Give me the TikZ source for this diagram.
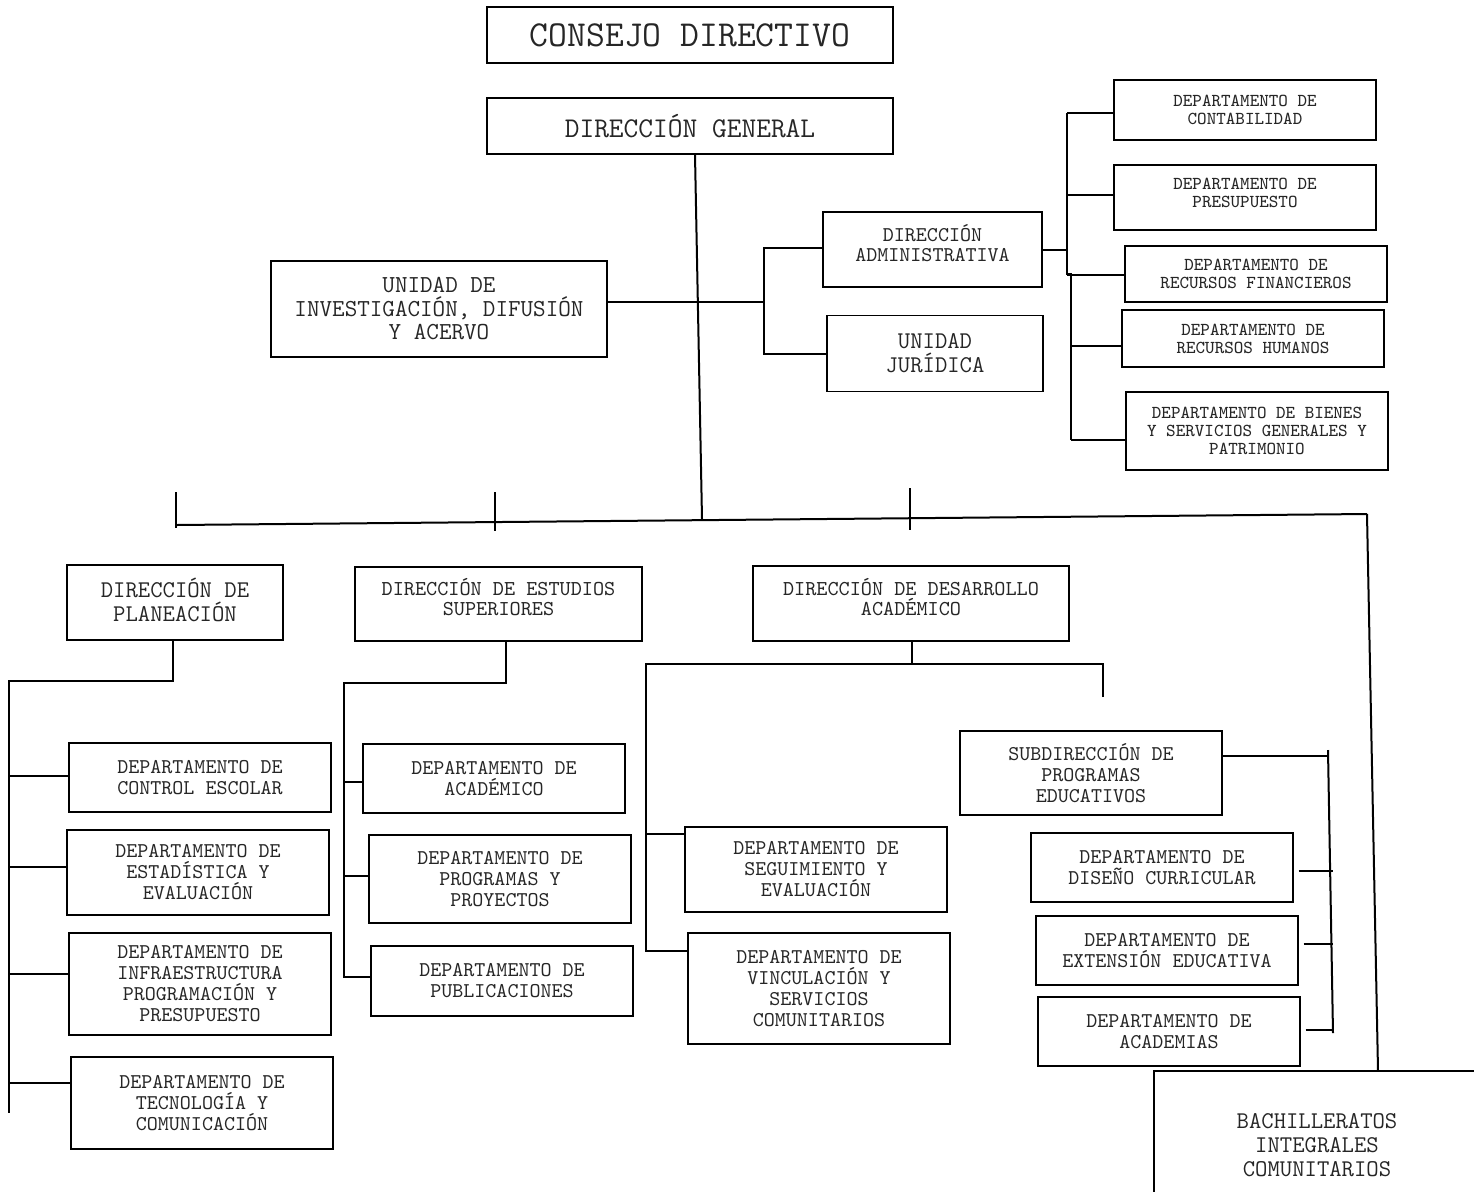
\documentclass[tikz,border=0pt]{standalone}
\usepackage{fontspec}

\begin{document}
\begin{tikzpicture}[x=0.5pt,y=-0.5pt,
    box/.style={draw,line width=0.65pt,align=center,inner sep=0pt,text=black!85},
    link/.style={line width=1pt},
    fA/.style={font=\ttfamily\fontsize{18.3}{21}\selectfont},
    fB/.style={font=\ttfamily\fontsize{14.3}{16}\selectfont},
    fC/.style={font=\ttfamily\fontsize{12}{12}\selectfont},
    fD/.style={font=\ttfamily\fontsize{10.5}{10.5}\selectfont},
    fE/.style={font=\ttfamily\fontsize{9.1}{9}\selectfont},
    dept/.style={box,fD,minimum width=131pt,minimum height=34.5pt},
    fin/.style={box,fE,minimum width=131pt}]
\useasboundingbox (0,0) rectangle (1474,1191);
\clip (0,0) rectangle (1474,1191);

\node[box,fA,minimum width=203pt,minimum height=28pt] (cd) at (690,35) {CONSEJO DIRECTIVO};
\node[box,fB,minimum width=203pt,minimum height=28pt] (dg) at (690,126) {DIRECCIÓN GENERAL};
\node[box,font=\ttfamily\fontsize{12.2}{11.75}\selectfont,minimum width=168pt,minimum height=48pt] (uinv) at (439,309) {UNIDAD DE\\INVESTIGACIÓN, DIFUSIÓN\\Y ACERVO};
\node[box,font=\ttfamily\fontsize{10.5}{10}\selectfont,minimum width=109.5pt,minimum height=37.5pt,text depth=6.5pt] (dadm) at (932.5,249.5) {DIRECCIÓN\\ADMINISTRATIVA};
\node[box,fC,minimum width=108pt,minimum height=38pt] (ujur) at (935,353.5) {UNIDAD\\JURÍDICA};

\node[fin,minimum height=30pt] (dcont) at (1245,110) {DEPARTAMENTO DE\\CONTABILIDAD};
\node[fin,minimum height=32.5pt,text depth=4.5pt] (dpres) at (1245,197.5) {DEPARTAMENTO DE\\PRESUPUESTO};
\node[fin,minimum height=28pt] (dfin) at (1256,274) {DEPARTAMENTO DE\\RECURSOS FINANCIEROS};
\node[fin,minimum height=28.5pt] (dhum) at (1253,338.5) {DEPARTAMENTO DE\\RECURSOS HUMANOS};
\node[fin,minimum height=39pt] (dbien) at (1257,431) {DEPARTAMENTO DE BIENES\\Y SERVICIOS GENERALES Y\\PATRIMONIO};

\node[box,fC,minimum width=108pt,minimum height=37.5pt,text depth=3pt] (dplan) at (175,602.5) {DIRECCIÓN DE\\PLANEACIÓN};
\node[box,font=\ttfamily\fontsize{10.6}{10}\selectfont,minimum width=143.5pt,minimum height=37pt,text depth=7pt] (dest) at (498.5,604) {DIRECCIÓN DE ESTUDIOS\\SUPERIORES};
\node[box,font=\ttfamily\fontsize{10.6}{10}\selectfont,minimum width=158pt,minimum height=37.5pt,text depth=7pt] (ddes) at (911,603.5) {DIRECCIÓN DE DESARROLLO\\ACADÉMICO};

\node[dept] (dctrl) at (200,777.5) {DEPARTAMENTO DE\\CONTROL ESCOLAR};
\node[dept,minimum height=42.5pt] (destad) at (198,872.5) {DEPARTAMENTO DE\\ESTADÍSTICA Y\\EVALUACIÓN};
\node[dept,minimum height=51pt] (dinfra) at (200,984) {DEPARTAMENTO DE\\INFRAESTRUCTURA\\PROGRAMACIÓN Y\\PRESUPUESTO};
\node[dept,minimum height=46pt] (dtec) at (202,1103) {DEPARTAMENTO DE\\TECNOLOGÍA Y\\COMUNICACIÓN};

\node[dept] (dacad) at (494,778.5) {DEPARTAMENTO DE\\ACADÉMICO};
\node[dept,minimum height=44pt] (dprog) at (500,879) {DEPARTAMENTO DE\\PROGRAMAS Y\\PROYECTOS};
\node[dept,minimum height=35pt] (dpub) at (502,981) {DEPARTAMENTO DE\\PUBLICACIONES};

\node[dept,minimum height=42.5pt] (dseg) at (816,869.5) {DEPARTAMENTO DE\\SEGUIMIENTO Y\\EVALUACIÓN};
\node[dept,minimum height=55.5pt] (dvinc) at (819,988.5) {DEPARTAMENTO DE\\VINCULACIÓN Y\\SERVICIOS\\COMUNITARIOS};

\node[dept,minimum height=42pt] (sprog) at (1091,773) {SUBDIRECCIÓN DE\\PROGRAMAS\\EDUCATIVOS};
\node[dept] (ddis) at (1162,867.5) {DEPARTAMENTO DE\\DISEÑO CURRICULAR};
\node[dept] (dext) at (1167,950.5) {DEPARTAMENTO DE\\EXTENSIÓN EDUCATIVA};
\node[dept] (dacm) at (1169,1031.5) {DEPARTAMENTO DE\\ACADEMIAS};

\node[box,fC,minimum width=163pt,minimum height=74pt] (bach) at (1317,1145) {BACHILLERATOS\\INTEGRALES\\COMUNITARIOS};

\coordinate (hub) at (702,519);
\draw[link] ([xshift=2.5pt]dg.south) -- (hub);
\coordinate (admbr) at (764,302);
\draw[link] ([yshift=3.5pt]uinv.east) -- (admbr);
\draw[link] ([yshift=1pt]dadm.west) -- ([yshift=1pt]dadm.west -| admbr) -- (ujur.west -| admbr) -- (ujur.west);

\coordinate (rbA) at (1067,113);
\coordinate (rbB) at (1071,440);
\draw[link] (dadm.east) -- (dadm.east -| rbA);
\draw[link] (rbA) -- (rbA |- dfin.west) -- (rbB |- dfin.west) -- (rbB);
\foreach \d/\s/\b in {dcont/-1.5/rbA,dpres/1.25/rbA,dfin/-0.5/rbA,dhum/-3.75/rbB,dbien/-4.5/rbB}{
  \path ([yshift=\s pt]\d.west) coordinate (tmp);
  \draw[link] (tmp -| \b) -- (tmp);
}

\coordinate (busL) at (176,525);
\coordinate (busR) at (1367,514);
\draw[link] (busL) -- (busR);
\foreach \n/\x/\a/\b in {1/176/492/528,2/495/492/531,3/910/488/530}{
  \coordinate (tick\n t) at (\x,\a);
  \coordinate (tick\n b) at (\x,\b);
  \draw[line width=0.8pt] (tick\n t) -- (tick\n b);
}
\draw[link] (busR) -- ([xshift=30.5pt]bach.north);

\coordinate (plbus) at (9,681);
\coordinate (plend) at (9,1113);
\draw[link] ([xshift=-1pt]dplan.south) -- ([xshift=-1pt]dplan.south |- plbus) -- (plbus) -- (plend);
\foreach \d/\s in {dctrl/0.75,destad/2.75,dinfra/5,dtec/10}{
  \path ([yshift=\s pt]\d.west) coordinate (tmp);
  \draw[link] (tmp -| plbus) -- (tmp);
}

\coordinate (esbus) at (344,683);
\draw[link] ([xshift=3.75pt]dest.south) -- ([xshift=3.75pt]dest.south |- esbus) -- (esbus) -- ([yshift=2pt]esbus |- dpub.west) -- ([yshift=2pt]dpub.west);
\foreach \d/\s in {dacad/-1.75,dprog/1.5}{
  \path ([yshift=\s pt]\d.west) coordinate (tmp);
  \draw[link] (tmp -| esbus) -- (tmp);
}

\coordinate (dsL) at (646,664);
\coordinate (dsR) at (1103,664);
\coordinate (dsRend) at (1103,697);
\draw[link] ([xshift=0.5pt]ddes.south) -- ([xshift=0.5pt]ddes.south |- dsL);
\draw[link] (dsRend) -- (dsR) -- (dsL) -- ([yshift=18.75pt]dsL |- dvinc.west) -- ([yshift=18.75pt]dvinc.west);
\path ([yshift=18pt]dseg.west) coordinate (tmp);
\draw[link] (tmp -| dsL) -- (tmp);

\coordinate (spT) at (1328,750);
\coordinate (spB) at (1333,1033);
\draw[link] (spT) -- (spB);
\path ([yshift=8.5pt]sprog.east) coordinate (tmp);
\draw[link] (tmp) -- (tmp -| spT);
\foreach \d/\s in {ddis/-1.5,dext/3.25,dacm/0.75}{
  \path ([xshift=2.5pt,yshift=\s pt]\d.east) coordinate (tmp);
  \draw[link] (tmp) -- (tmp -| spB);
}
\end{tikzpicture}
\end{document}
